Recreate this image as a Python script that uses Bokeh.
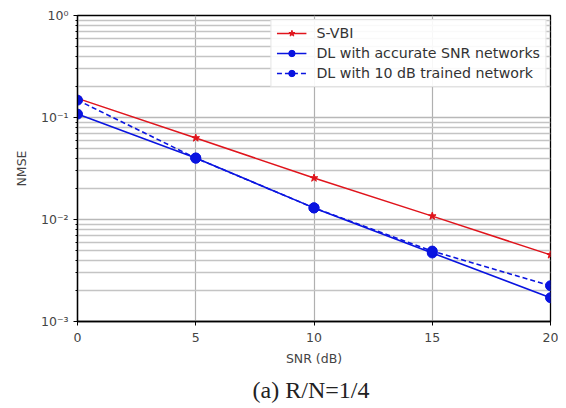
from bokeh.plotting import figure
from bokeh.models import FixedTicker, CustomJSTickFormatter, Title, Legend, LegendItem, Range1d
from bokeh.embed import file_html
from bokeh.resources import INLINE

snr = [0, 5, 10, 15, 20]
svbi = [0.154, 0.063, 0.0255, 0.0108, 0.0045]
dl_accurate = [0.108, 0.040, 0.0130, 0.0047, 0.00171]
dl_10db = [0.148, 0.040, 0.0130, 0.0049, 0.00224]

x_ticks = [0, 5, 10, 15, 20]
y_major = [1e-3, 1e-2, 1e-1, 1e0]
y_minor = [m * d for d in [1e-3, 1e-2, 1e-1] for m in range(2, 10)]
caption = "(a)  R/N=1/4"

p = figure(width=558, height=408, y_axis_type="log",
           x_range=Range1d(0, 20), y_range=Range1d(1e-3, 1),
           output_backend="svg", toolbar_location=None,
           min_border_left=77, min_border_right=8, min_border_top=15, min_border_bottom=86)

p.outline_line_color = "black"
p.outline_line_width = 1.3
p.background_fill_color = "white"

FONT = "DejaVu Sans"
for ax in [p.xaxis[0], p.yaxis[0]]:
    ax.major_label_text_font = FONT
    ax.major_label_text_font_size = "12.5px"
    ax.major_label_text_color = "#444444"
    ax.axis_label_text_font = FONT
    ax.axis_label_text_font_size = "12.5px"
    ax.axis_label_text_font_style = "normal"
    ax.axis_label_text_color = "#444444"
    ax.axis_line_color = "black"
    ax.axis_line_width = 1.3
    ax.major_tick_line_color = "black"
    ax.minor_tick_line_color = "black"
    ax.major_tick_in = 0
    ax.major_tick_out = 4
    ax.minor_tick_in = 0
    ax.minor_tick_out = 2

p.xaxis.ticker = FixedTicker(ticks=x_ticks)
p.xaxis.axis_label = "SNR (dB)"
p.xaxis.axis_label_standoff = 6
p.xaxis.major_label_standoff = 7

p.yaxis.ticker = FixedTicker(ticks=y_major, minor_ticks=y_minor)
p.yaxis.formatter = CustomJSTickFormatter(code="""
const e = Math.round(Math.log10(tick));
const sup = {'-':'\u207b','0':'\u2070','1':'\u00b9','2':'\u00b2','3':'\u00b3','4':'\u2074'};
return '10' + String(e).split('').map(c => sup[c]).join('');
""")
p.yaxis.axis_label = "NMSE"
p.yaxis.axis_label_standoff = 9
p.yaxis.major_label_standoff = 5

p.xgrid.grid_line_color = "#b0b0b0"
p.xgrid.grid_line_width = 1.2
p.ygrid.grid_line_color = "#b8b8b8"
p.ygrid.grid_line_width = 1.4
p.ygrid.minor_grid_line_color = "#c4c4c4"
p.ygrid.minor_grid_line_width = 1.4

RED = "#e0141c"
BLUE = "#0a14e0"

r1 = p.line(snr, svbi, line_color=RED, line_width=1.5)
r1m = p.scatter(snr, svbi, marker="star", size=8, fill_color=RED, line_color=RED)
r2 = p.line(snr, dl_accurate, line_color=BLUE, line_width=1.6)
r2m = p.scatter(snr, dl_accurate, marker="circle", size=10, fill_color=BLUE, line_color=BLUE)
r3 = p.line(snr, dl_10db, line_color=BLUE, line_width=1.6, line_dash="5 3")
r3m = p.scatter(snr, dl_10db, marker="circle", size=10, fill_color=BLUE, line_color=BLUE)

legend = Legend(items=[
    LegendItem(label="S-VBI", renderers=[r1, r1m]),
    LegendItem(label="DL with accurate SNR networks", renderers=[r2, r2m]),
    LegendItem(label="DL with 10 dB trained network", renderers=[r3, r3m]),
], location="top_right")
legend.label_text_font = FONT
legend.label_text_font_size = "14.2px"
legend.label_text_color = "#333333"
legend.glyph_width = 30
legend.glyph_height = 16
legend.label_height = 16
legend.label_standoff = 10
legend.spacing = 4
legend.padding = 5
legend.margin = 4
legend.border_line_color = "#cccccc"
legend.border_line_width = 1
legend.background_fill_alpha = 0.9
p.add_layout(legend)

cap = Title(text=caption, align="center", text_font="Liberation Serif",
            text_font_size="24px", text_font_style="normal", text_color="#222222",
            standoff=12)
p.add_layout(cap, "below")

open("out.html", "w").write(file_html(p, INLINE))
